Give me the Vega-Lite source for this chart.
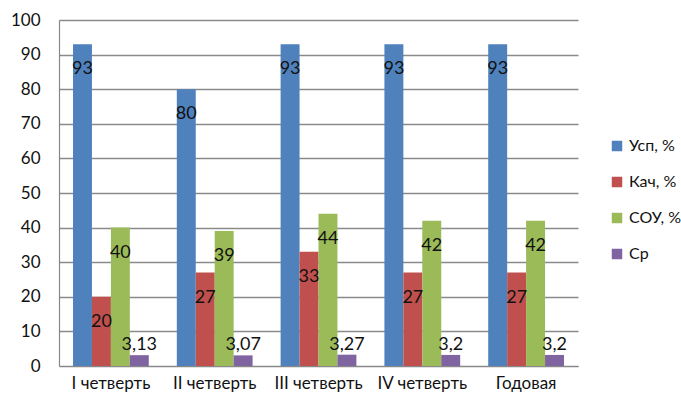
{
  "$schema": "https://vega.github.io/schema/vega-lite/v6.json",
  "autosize": "none",
  "width": 519,
  "height": 346,
  "padding": {"left": 59, "top": 20, "right": 103, "bottom": 42},
  "background": "white",
  "config": {"view": {"stroke": null}},
  "data": {
    "values": [
      {"q": "I четверть", "s": "Усп, %", "o": 1, "v": 93, "t": "93"},
      {"q": "I четверть", "s": "Кач, %", "o": 2, "v": 20, "t": "20"},
      {"q": "I четверть", "s": "СОУ, %", "o": 3, "v": 40, "t": "40"},
      {"q": "I четверть", "s": "Ср", "o": 4, "v": 3.13, "t": "3,13"},
      {"q": "II четверть", "s": "Усп, %", "o": 1, "v": 80, "t": "80"},
      {"q": "II четверть", "s": "Кач, %", "o": 2, "v": 27, "t": "27"},
      {"q": "II четверть", "s": "СОУ, %", "o": 3, "v": 39, "t": "39"},
      {"q": "II четверть", "s": "Ср", "o": 4, "v": 3.07, "t": "3,07"},
      {"q": "III четверть", "s": "Усп, %", "o": 1, "v": 93, "t": "93"},
      {"q": "III четверть", "s": "Кач, %", "o": 2, "v": 33, "t": "33"},
      {"q": "III четверть", "s": "СОУ, %", "o": 3, "v": 44, "t": "44"},
      {"q": "III четверть", "s": "Ср", "o": 4, "v": 3.27, "t": "3,27"},
      {"q": "IV четверть", "s": "Усп, %", "o": 1, "v": 93, "t": "93"},
      {"q": "IV четверть", "s": "Кач, %", "o": 2, "v": 27, "t": "27"},
      {"q": "IV четверть", "s": "СОУ, %", "o": 3, "v": 42, "t": "42"},
      {"q": "IV четверть", "s": "Ср", "o": 4, "v": 3.2, "t": "3,2"},
      {"q": "Годовая", "s": "Усп, %", "o": 1, "v": 93, "t": "93"},
      {"q": "Годовая", "s": "Кач, %", "o": 2, "v": 27, "t": "27"},
      {"q": "Годовая", "s": "СОУ, %", "o": 3, "v": 42, "t": "42"},
      {"q": "Годовая", "s": "Ср", "o": 4, "v": 3.2, "t": "3,2"}
    ]
  },
  "encoding": {
    "x": {
      "field": "q", "type": "nominal", "sort": null,
      "scale": {"paddingInner": 0.27, "paddingOuter": 0.135},
      "axis": {"title": null, "labelAngle": 0, "ticks": false, "domainColor": "#888888", "domainWidth": 1.2, "labelFont": "Lato", "labelFontSize": 17, "labelColor": "#111111", "labelPadding": 17, "labelBaseline": "middle"}
    },
    "xOffset": {"field": "s", "type": "nominal", "sort": ["Усп, %", "Кач, %", "СОУ, %", "Ср"], "scale": {"paddingInner": 0, "paddingOuter": 0}},
    "y": {
      "field": "v", "type": "quantitative",
      "scale": {"domain": [0, 100], "nice": false},
      "axis": {"title": null, "values": [0,10,20,30,40,50,60,70,80,90,100], "labelOverlap": false, "ticks": false, "domainColor": "#888888", "domainWidth": 1.2, "gridColor": "#8a8a8a", "gridWidth": 1.3, "labelFont": "Lato", "labelFontSize": 17, "labelColor": "#111111", "labelPadding": 19}
    }
  },
  "layer": [
    {
      "mark": {"type": "bar"},
      "encoding": {
        "color": {
          "field": "s", "type": "nominal",
          "sort": ["Усп, %", "Кач, %", "СОУ, %", "Ср"],
          "scale": {"domain": ["Усп, %", "Кач, %", "СОУ, %", "Ср"], "range": ["#4F81BD", "#C0504D", "#9BBB59", "#8064A2"]},
          "legend": {"title": null, "orient": "none", "legendX": 550, "legendY": 118, "symbolType": "square", "symbolSize": 110, "symbolStrokeWidth": 0, "labelFont": "Lato", "labelFontSize": 16, "labelColor": "#111111", "rowPadding": 20, "labelOffset": 4}
        }
      }
    },
    {
      "transform": [{"filter": "datum.o < 4"}],
      "mark": {"type": "text", "font": "Lato", "fontSize": 18, "color": "#111111", "baseline": "middle", "dy": 25},
      "encoding": {"text": {"field": "t"}}
    },
    {
      "transform": [{"filter": "datum.o == 4"}],
      "mark": {"type": "text", "font": "Lato", "fontSize": 18, "color": "#111111", "baseline": "middle", "dy": -10},
      "encoding": {"text": {"field": "t"}}
    }
  ]
}
